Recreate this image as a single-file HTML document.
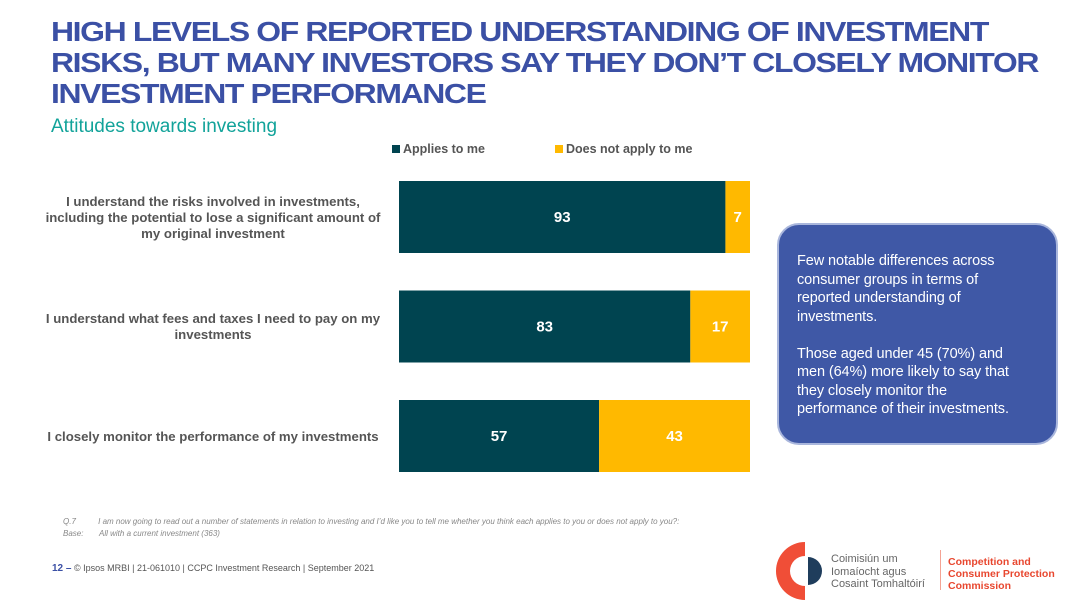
<!DOCTYPE html>
<html><head><meta charset="utf-8"><style>
body{margin:0;width:1080px;height:608px;background:#fff;font-family:"Liberation Sans",sans-serif;position:relative;overflow:hidden}
.abs{position:absolute}
#title{left:51px;top:16px;font-size:28px;font-weight:bold;color:#3b50a5;line-height:31px;letter-spacing:-1.2px;margin:0;transform:scaleX(1.14);transform-origin:left top;white-space:nowrap}
#sub{left:51px;top:116px;font-size:19px;color:#12a39a}
.cat{position:absolute;right:692px;width:350px;text-align:center;font-size:13.2px;font-weight:bold;color:#555;line-height:16px;white-space:nowrap}
#callout{left:777px;top:223px;width:281px;height:222px;box-sizing:border-box;background:#3f58a6;border:2px solid #a9b6dc;border-radius:22px;color:#fff;font-size:14.5px;line-height:18.5px;padding:27px 10px 0 18px;letter-spacing:-0.1px;white-space:nowrap}
.foot{font-size:8px;color:#888;font-style:italic}
</style></head><body>
<h1 id="title" class="abs">HIGH LEVELS OF REPORTED UNDERSTANDING OF INVESTMENT<br>RISKS, BUT MANY INVESTORS SAY THEY DON’T CLOSELY MONITOR<br>INVESTMENT PERFORMANCE</h1>
<div id="sub" class="abs">Attitudes towards investing</div>
<div class="abs" style="left:392px;top:142px;font-size:12.5px;font-weight:bold;color:#555"><span style="display:inline-block;width:8px;height:8px;background:#004450;margin-right:3px"></span>Applies to me</div>
<div class="abs" style="left:555px;top:142px;font-size:12.5px;font-weight:bold;color:#555"><span style="display:inline-block;width:8px;height:8px;background:#ffb900;margin-right:3px"></span>Does not apply to me</div>
<div class="cat" style="top:194px">I understand the risks involved in investments,<br>including the potential to lose a significant amount of<br>my original investment</div>
<div class="cat" style="top:311px">I understand what fees and taxes I need to pay on my<br>investments</div>
<div class="cat" style="top:429px">I closely monitor the performance of my investments</div>
<svg class="abs" style="left:0;top:0" width="1080" height="608" id="chart"></svg>
<div id="callout" class="abs">Few notable differences across<br>consumer groups in terms of<br>reported understanding of<br>investments.<br><br>Those aged under 45 (70%) and<br>men (64%) more likely to say that<br>they closely monitor the<br>performance of their investments.</div>
<div class="abs foot" style="left:63px;top:517px">Q.7&nbsp;&nbsp;&nbsp;&nbsp;&nbsp;&nbsp;&nbsp;&nbsp;&nbsp;&nbsp;I am now going to read out a number of statements in relation to investing and I’d like you to tell me whether you think each applies to you or does not apply to you?:</div>
<div class="abs foot" style="left:63px;top:529px">Base:&nbsp;&nbsp;&nbsp;&nbsp;&nbsp;&nbsp;&nbsp;All with a current investment (363)</div>
<div class="abs" style="left:52px;top:563px;font-size:9px;color:#555"><b style="color:#3b50a5;font-size:10px">12 –</b> © Ipsos MRBI | 21-061010 | CCPC Investment Research | September 2021</div>
<svg class="abs" style="left:775px;top:540px" width="60" height="62"><path d="M30 2 A29 29 0 1 0 30 60 L30 46 A15 15 0 1 1 30 16 Z" fill="#f04e37"/><path d="M33 17 A14 14 0 0 1 33 45 Z" fill="#1f3d5c"/></svg>
<div class="abs" style="left:831px;top:553px;font-size:11px;color:#666;line-height:12.5px">Coimisiún um<br>Iomaíocht agus<br>Cosaint Tomhaltóirí</div>
<div class="abs" style="left:940px;top:550px;width:1px;height:40px;background:#f4a394"></div>
<div class="abs" style="left:948px;top:556px;font-size:10.5px;font-weight:bold;color:#e8472f;line-height:12px">Competition and<br>Consumer Protection<br>Commission</div>
<script>
const categories=["risks","fees","monitor"];
const applies=[93,83,57];
const notApply=[7,17,43];
const svg=document.getElementById('chart');
const NS='http://www.w3.org/2000/svg';
const x0=399,w=351;
const xs=v=>x0+v/100*w;
const bandTop=i=>181+i*109.5;
const bh=72;
function rect(x,y,ww,h,c){const r=document.createElementNS(NS,'rect');r.setAttribute('x',x);r.setAttribute('y',y);r.setAttribute('width',ww);r.setAttribute('height',h);r.setAttribute('fill',c);svg.appendChild(r);return r;}
function txt(x,y,s){const t=document.createElementNS(NS,'text');t.setAttribute('x',x);t.setAttribute('y',y);t.setAttribute('text-anchor','middle');t.setAttribute('fill','#fff');t.setAttribute('font-size','15');t.setAttribute('font-weight','bold');t.setAttribute('font-family','Liberation Sans, sans-serif');t.textContent=s;svg.appendChild(t);return t;}
categories.forEach((c,i)=>{
const y=bandTop(i);
const a=rect(xs(0),y,xs(applies[i])-xs(0),bh,'#004450');


const b=rect(xs(applies[i]),y,xs(applies[i]+notApply[i])-xs(applies[i]),bh,'#ffb900');


const t1=txt((xs(0)+xs(applies[i]))/2,y+bh/2+5,applies[i]);


const t2=txt((xs(applies[i])+xs(applies[i]+notApply[i]))/2,y+bh/2+5,notApply[i]);


});
</script>
</body></html>
